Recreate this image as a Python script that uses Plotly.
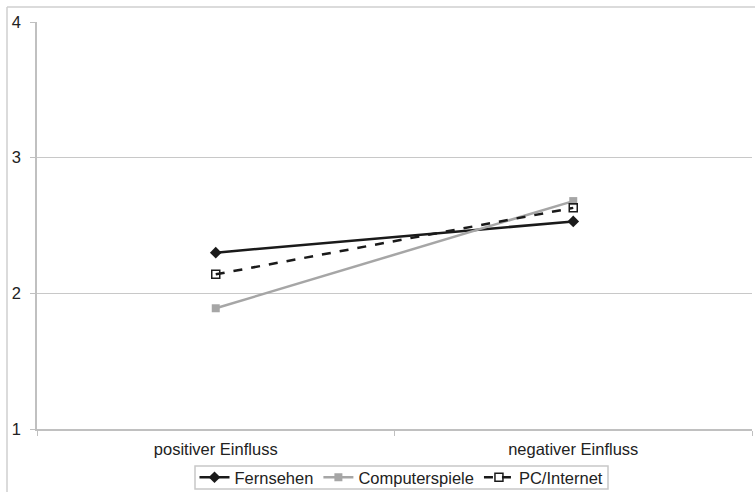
import plotly.graph_objects as go

categories = ["positiver Einfluss", "negativer Einfluss"]
fernsehen = [2.30, 2.53]
computerspiele = [1.89, 2.68]
pc_internet = [2.14, 2.63]
y_ticks = [1, 2, 3, 4]

W, H = 755, 492
L, R, T, B = 37, 3, 22, 63
pw = W - L - R
ph = H - T - B

fig = go.Figure()
fig.add_trace(go.Scatter(
    x=categories, y=fernsehen, name="Fernsehen", mode="lines+markers",
    line=dict(color="#1a1a1a", width=2.5),
    marker=dict(symbol="diamond", size=9, color="#1a1a1a"),
))
fig.add_trace(go.Scatter(
    x=categories, y=computerspiele, name="Computerspiele", mode="lines+markers",
    line=dict(color="#a6a6a6", width=2.5),
    marker=dict(symbol="square", size=8, color="#a6a6a6"),
))
fig.add_trace(go.Scatter(
    x=categories, y=pc_internet, name="PC/Internet", mode="lines+markers",
    line=dict(color="#1a1a1a", width=2.5, dash="dash"),
    marker=dict(symbol="square-open", size=8, color="#1a1a1a", line=dict(width=1.5)),
))

# outer chart frame (left and top edges)
fx0 = (7 - L) / pw
fy1 = 1 + (T - 7) / ph
fig.add_shape(type="line", xref="paper", yref="paper", x0=fx0, x1=fx0, y0=-2, y1=fy1,
              line=dict(color="#cfcfcf", width=1.5))
fig.add_shape(type="line", xref="paper", yref="paper", x0=fx0, x1=2, y0=fy1, y1=fy1,
              line=dict(color="#cfcfcf", width=1.5))

# legend frame
def px_x(p):
    return (p - L) / pw

def px_y(p):
    return 1 - (p - T) / ph

fig.add_shape(type="rect", xref="paper", yref="paper",
              x0=px_x(195), x1=px_x(608), y0=px_y(489), y1=px_y(466),
              line=dict(color="#c8c8c8", width=1.5), fillcolor="white", layer="below")

fig.update_layout(
    width=W, height=H,
    margin=dict(l=L, r=R, t=T, b=B, autoexpand=False),
    paper_bgcolor="white", plot_bgcolor="white",
    font=dict(family="Liberation Sans, Arial, sans-serif", size=16.5, color="#222222"),
    showlegend=True,
    legend=dict(
        orientation="h", x=px_x(401.5), xanchor="center",
        yref="container", y=1 - 477.5 / H, yanchor="middle",
        borderwidth=0, bgcolor="rgba(0,0,0,0)",
        font=dict(size=16.5), itemwidth=30, tracegroupgap=0,
    ),
    xaxis=dict(
        type="category", range=[-0.5, 1.5], tickson="boundaries",
        ticks="outside", ticklen=5, tickcolor="#c0c0c0",
        showgrid=False, showline=True, linecolor="#c0c0c0", linewidth=1.5,
        ticklabelstandoff=4, automargin=False,
    ),
    yaxis=dict(
        range=[1, 4], tickvals=y_ticks, ticks="outside", ticklen=5,
        tickcolor="#c0c0c0", showgrid=True, gridcolor="#c8c8c8", gridwidth=1.2,
        showline=True, linecolor="#c0c0c0", linewidth=1.5, zeroline=False,
        ticklabelstandoff=6, automargin=False,
    ),
)

fig.write_html("out.html")
